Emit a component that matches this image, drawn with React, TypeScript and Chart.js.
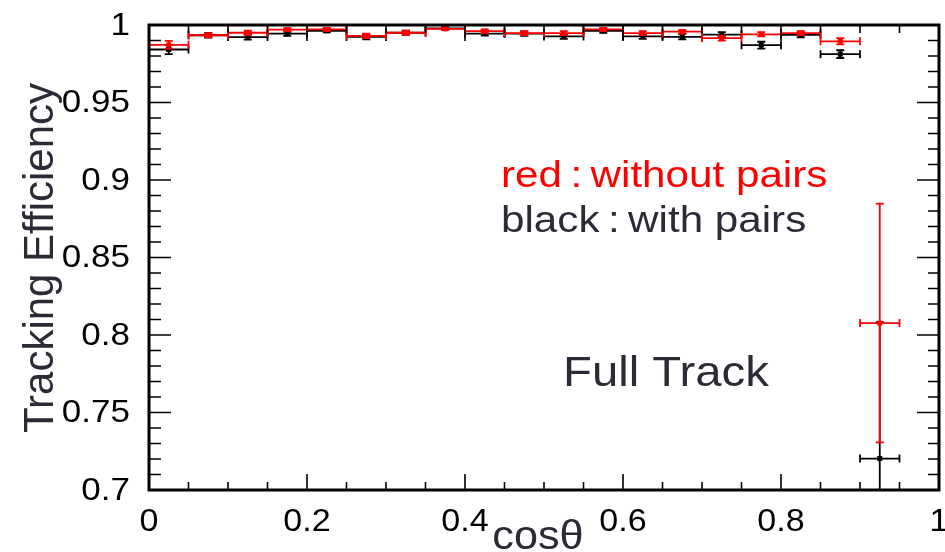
import React, { useEffect, useRef } from "react";
import { Chart, registerables } from "chart.js";

Chart.register(...registerables);

// Bin centres in cos(theta), bins of width 0.05
const COS_THETA = [
  0.025, 0.075, 0.125, 0.175, 0.225, 0.275, 0.325, 0.375, 0.425, 0.475,
  0.525, 0.575, 0.625, 0.675, 0.725, 0.775, 0.825, 0.875, 0.925,
];
const BIN_HALF_WIDTH = 0.025;

// Efficiency without pair background (red)
const RED_EFF = [
  0.9872, 0.9934, 0.995, 0.997, 0.9972, 0.993, 0.995, 0.9975, 0.996, 0.9948,
  0.9948, 0.9972, 0.9948, 0.9957, 0.9915, 0.994, 0.9948, 0.9895, 0.8077,
];
const RED_ERR = [
  0.0025, 0.0014, 0.0013, 0.001, 0.001, 0.0015, 0.0013, 0.0008, 0.0012, 0.0013,
  0.0013, 0.001, 0.0013, 0.0012, 0.0016, 0.0014, 0.0013, 0.002, 0.077,
];

// Efficiency with pair background (black)
const BLACK_EFF = [
  0.9842, 0.9934, 0.9922, 0.9944, 0.9963, 0.9923, 0.995, 0.9978, 0.9945, 0.9944,
  0.9926, 0.9962, 0.9926, 0.9924, 0.9938, 0.987, 0.9937, 0.9812, 0.7203,
];
const BLACK_ERR = [
  0.003, 0.0015, 0.0016, 0.0014, 0.0011, 0.0016, 0.0013, 0.0008, 0.0014, 0.0014,
  0.0016, 0.0012, 0.0016, 0.0017, 0.0016, 0.0022, 0.0016, 0.0025, 0.088,
];

const X_TICK_VALUES = [0, 0.2, 0.4, 0.6, 0.8, 1];
const X_TICK_LABELS = ["0", "0.2", "0.4", "0.6", "0.8", "1"];
const Y_TICK_VALUES = [0.7, 0.75, 0.8, 0.85, 0.9, 0.95, 1];
const Y_TICK_LABELS = ["0.7", "0.75", "0.8", "0.85", "0.9", "0.95", "1"];

const X_MIN = 0;
const X_MAX = 1;
const Y_MIN = 0.7;
const Y_MAX = 1;
const X_MINOR_STEP = 0.05;
const Y_MINOR_STEP = 0.01;

const FONT = "'Liberation Sans', Arial, Helvetica, sans-serif";
const TEXT_DARK = "#2b2b36";
const RED = "#ff0000";
const ERRS = [RED_ERR, BLACK_ERR];

function drawText(
  ctx: CanvasRenderingContext2D,
  text: string,
  x: number,
  y: number,
  size: number,
  color: string,
  align: CanvasTextAlign,
  baseline: CanvasTextBaseline,
  sx = 1.1,
  rotate = 0
) {
  ctx.save();
  ctx.translate(x, y);
  if (rotate) ctx.rotate(rotate);
  ctx.scale(sx, 1);
  ctx.font = `${size}px ${FONT}`;
  ctx.fillStyle = color;
  ctx.textAlign = align;
  ctx.textBaseline = baseline;
  ctx.fillText(text, 0, 0);
  ctx.restore();
}

const errorBarPlugin = {
  id: "histErrorBars",
  afterDatasetsDraw(chart: any) {
    const { ctx, chartArea, scales } = chart;
    const xs = scales.x;
    const ys = scales.y;
    ctx.save();
    ctx.beginPath();
    ctx.rect(chartArea.left, chartArea.top, chartArea.right - chartArea.left, chartArea.bottom - chartArea.top);
    ctx.clip();
    // black first, red on top
    [1, 0].forEach((di) => {
      const ds = chart.data.datasets[di];
      const meta = chart.getDatasetMeta(di);
      const errs = ERRS[di];
      const color = ds.borderColor;
      ctx.strokeStyle = color;
      ctx.fillStyle = color;
      ctx.lineWidth = 1.8;
      meta.data.forEach((el: any, i: number) => {
        const pt = ds.data[i];
        const cx = el.x;
        const cy = el.y;
        const xl = xs.getPixelForValue(pt.x - BIN_HALF_WIDTH);
        const xr = xs.getPixelForValue(pt.x + BIN_HALF_WIDTH);
        const yt = ys.getPixelForValue(pt.y + errs[i]);
        const yb = ys.getPixelForValue(pt.y - errs[i]);
        const cap = 4;
        ctx.beginPath();
        // horizontal bin-width bar with end caps
        ctx.moveTo(xl, cy);
        ctx.lineTo(xr, cy);
        ctx.moveTo(xl, cy - cap);
        ctx.lineTo(xl, cy + cap);
        ctx.moveTo(xr, cy - cap);
        ctx.lineTo(xr, cy + cap);
        // vertical error with caps
        ctx.moveTo(cx, yt);
        ctx.lineTo(cx, yb);
        ctx.moveTo(cx - cap, yt);
        ctx.lineTo(cx + cap, yt);
        ctx.moveTo(cx - cap, yb);
        ctx.lineTo(cx + cap, yb);
        ctx.stroke();
        ctx.fillRect(cx - 2.5, cy - 2.5, 5, 5);
      });
    });
    ctx.restore();
  },
};

const framePlugin = {
  id: "rootFrame",
  afterDraw(chart: any) {
    const { ctx, chartArea, scales } = chart;
    const xs = scales.x;
    const ys = scales.y;
    const { left, right, top, bottom } = chartArea;
    ctx.save();
    ctx.strokeStyle = "#000";

    // inward ticks on all four sides
    ctx.lineWidth = 1.6;
    ctx.beginPath();
    const nX = Math.round((X_MAX - X_MIN) / X_MINOR_STEP);
    for (let k = 0; k <= nX; k++) {
      const v = X_MIN + k * X_MINOR_STEP;
      const px = xs.getPixelForValue(v);
      const major = X_TICK_VALUES.some((t) => Math.abs(t - v) < 1e-6);
      const len = major ? 16 : 8;
      ctx.moveTo(px, bottom);
      ctx.lineTo(px, bottom - len);
      ctx.moveTo(px, top);
      ctx.lineTo(px, top + len);
    }
    const nY = Math.round((Y_MAX - Y_MIN) / Y_MINOR_STEP);
    for (let k = 0; k <= nY; k++) {
      const v = Y_MIN + k * Y_MINOR_STEP;
      const py = ys.getPixelForValue(v);
      const major = Y_TICK_VALUES.some((t) => Math.abs(t - v) < 1e-6);
      ctx.moveTo(left, py);
      ctx.lineTo(left + (major ? 22 : 12), py);
      ctx.moveTo(right, py);
      ctx.lineTo(right - (major ? 22 : 11), py);
    }
    ctx.stroke();

    // frame
    ctx.lineWidth = 3;
    ctx.strokeRect(left, top, right - left, bottom - top);
    ctx.restore();

    // tick labels
    Y_TICK_VALUES.forEach((v, i) => {
      drawText(ctx, Y_TICK_LABELS[i], 130, ys.getPixelForValue(v) + 1, 31, "#000", "right", "middle", 1.13);
    });
    X_TICK_VALUES.forEach((v, i) => {
      drawText(ctx, X_TICK_LABELS[i], xs.getPixelForValue(v), 522, 31, "#000", "center", "middle", 1.1);
    });

    // axis titles
    drawText(ctx, "cosθ", 538, 549, 40, TEXT_DARK, "center", "alphabetic", 1.08);
    drawText(ctx, "Tracking Efficiency", 53, 258, 42, TEXT_DARK, "center", "alphabetic", 1.0, -Math.PI / 2);

    // annotations
    drawText(ctx, "red\u2009:\u2009without pairs", 501, 187, 37, RED, "left", "alphabetic", 1.14);
    drawText(ctx, "black\u2009:\u2009with pairs", 501, 232, 37, TEXT_DARK, "left", "alphabetic", 1.14);
    drawText(ctx, "Full Track", 563, 386, 43, TEXT_DARK, "left", "alphabetic", 1.1);
  },
};

export default function App() {
  const canvasRef = useRef<HTMLCanvasElement | null>(null);

  useEffect(() => {
    const canvas = canvasRef.current;
    if (!canvas) return;
    const chart = new Chart(canvas, {
      type: "scatter",
      data: {
        datasets: [
          {
            label: "without pairs",
            data: COS_THETA.map((x, i) => ({ x, y: RED_EFF[i] })),
            borderColor: RED,
            backgroundColor: RED,
            pointRadius: 0,
            showLine: false,
          },
          {
            label: "with pairs",
            data: COS_THETA.map((x, i) => ({ x, y: BLACK_EFF[i] })),
            borderColor: "#000000",
            backgroundColor: "#000000",
            pointRadius: 0,
            showLine: false,
          },
        ],
      },
      options: {
        animation: false,
        responsive: false,
        devicePixelRatio: 1,
        layout: { padding: { left: 149, top: 25, right: 6, bottom: 62 } },
        plugins: {
          legend: { display: false },
          tooltip: { enabled: false },
        },
        scales: {
          x: { type: "linear", min: X_MIN, max: X_MAX, display: false },
          y: { type: "linear", min: Y_MIN, max: Y_MAX, display: false },
        },
      },
      plugins: [errorBarPlugin, framePlugin],
    });
    return () => chart.destroy();
  }, []);

  return (
    <div style={{ position: "absolute", left: 0, top: 0, width: 945, height: 552, background: "#fff" }}>
      <canvas ref={canvasRef} width={945} height={552} />
    </div>
  );
}
